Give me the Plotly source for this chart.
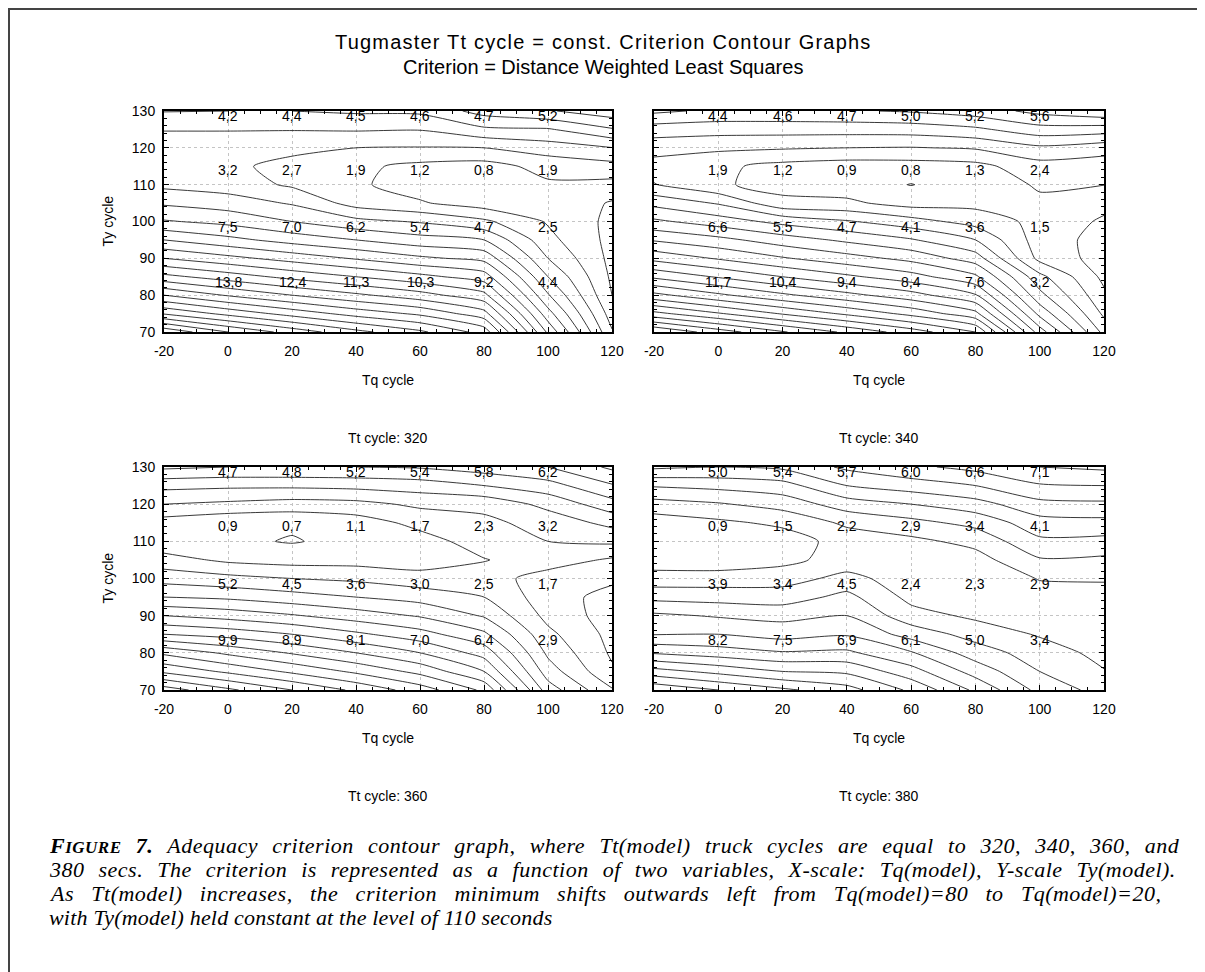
import plotly.graph_objects as go

# the page body adds an 8 px margin, so the figure is drawn 8 px smaller and all
# positions below are given in page pixels and shifted by OFF
OFF = 8
W, H = 1205 - OFF, 972 - OFF

# grid of the fitted criterion surface
tq = [-20, 0, 20, 40, 60, 80, 100, 120]
ty = [70, 75, 80, 85, 90, 95, 100, 105, 110, 115, 120, 125, 130]

# rows follow ty (70 -> 130), columns follow tq (-20 -> 120)
z320 = [
    [21.8, 20.0, 18.6, 17.3, 16.2, 14.6, 7.8, 2.1],
    [17.9, 16.7, 15.6, 14.6, 13.8, 12.4, 6.4, 1.5],
    [15.0, 13.9, 13.0, 12.2, 11.4, 10.3, 5.1, 1.0],
    [12.3, 11.5, 10.7, 10.0, 9.3, 8.5, 4.0, 0.82],
    [10.0, 9.3, 8.6, 7.9, 7.2, 6.7, 3.0, 0.72],
    [8.0, 7.3, 6.6, 6.0, 5.4, 5.0, 2.3, 0.7],
    [6.1, 5.7, 5.0, 4.3, 3.9, 3.2, 1.9, 0.75],
    [4.85, 4.5, 3.9, 2.6, 2.1, 1.5, 1.8, 0.9],
    [3.75, 3.5, 2.85, 2.15, 1.55, 1.25, 1.85, 1.7],
    [3.5, 3.2, 2.7, 2.2, 1.75, 1.6, 2.35, 2.65],
    [3.7, 3.5, 3.25, 3.0, 2.95, 3.0, 3.5, 3.97],
    [4.03, 4.05, 4.05, 4.1, 4.05, 4.8, 4.9, 5.9],
    [5.05, 5.0, 5.0, 5.15, 5.2, 6.4, 6.9, 7.6],
]
z340 = [
    [20.5, 19.0, 17.6, 16.3, 15.0, 13.5, 7.0, 2.2],
    [16.8, 15.6, 14.4, 13.3, 12.2, 10.8, 5.2, 1.3],
    [13.8, 12.7, 11.7, 10.8, 9.9, 8.6, 3.8, 0.7],
    [11.3, 10.4, 9.5, 8.7, 7.9, 6.7, 2.8, 0.25],
    [9.2, 8.4, 7.6, 6.9, 6.2, 5.0, 1.2, 0.1],
    [7.4, 6.8, 6.0, 5.3, 4.6, 3.5, 1.0, 0.15],
    [5.7, 5.0, 4.2, 3.6, 2.9, 2.1, 1.2, 0.35],
    [4.2, 3.4, 1.8, 1.7, 1.1, 1.2, 1.35, 0.8],
    [2.55, 1.65, 1.1, 0.95, 0.47, 1.0, 1.6, 1.52],
    [2.1, 1.7, 1.2, 1.0, 1.05, 1.2, 2.1, 2.0],
    [2.9, 2.7, 2.6, 2.5, 2.45, 2.6, 3.3, 2.9],
    [4.0, 3.9, 3.9, 3.9, 3.95, 4.3, 5.1, 5.0],
    [5.7, 5.3, 5.3, 5.4, 5.6, 6.0, 6.8, 7.3],
]
z360 = [
    [16.5, 15.2, 14.0, 12.8, 11.5, 9.8, 4.5, 2.1],
    [13.8, 12.8, 11.8, 10.8, 9.7, 8.0, 3.5, 1.15],
    [11.8, 10.8, 9.9, 9.0, 8.0, 6.6, 2.8, 0.85],
    [9.0, 8.6, 8.0, 7.2, 6.4, 5.2, 2.25, 0.7],
    [7.0, 6.6, 6.1, 5.5, 4.9, 3.9, 1.7, 0.55],
    [5.0, 4.8, 4.4, 4.0, 3.6, 3.0, 1.45, 0.65],
    [3.6, 3.3, 3.0, 2.8, 2.4, 2.45, 1.55, 1.2],
    [2.4, 1.8, 1.6, 1.6, 1.5, 1.95, 2.5, 1.85],
    [1.3, 1.2, 0.93, 1.3, 1.6, 2.45, 3.0, 3.2],
    [1.55, 1.2, 1.15, 1.5, 2.3, 2.75, 3.4, 4.3],
    [3.0, 2.8, 2.6, 2.7, 3.2, 3.3, 4.3, 5.6],
    [4.3, 4.2, 4.2, 4.3, 4.5, 5.0, 5.6, 6.9],
    [6.2, 6.0, 6.0, 6.0, 6.1, 6.5, 7.0, 8.2],
]
z380 = [
    [12.8, 12.0, 11.2, 10.4, 8.8, 6.8, 4.7, 3.6],
    [10.4, 9.7, 9.0, 8.8, 7.4, 5.6, 4.0, 3.05],
    [7.9, 7.5, 7.1, 7.2, 6.1, 4.5, 3.5, 2.7],
    [5.95, 6.0, 5.6, 5.9, 4.6, 3.6, 2.9, 2.5],
    [5.2, 4.9, 4.7, 5.0, 3.4, 2.8, 2.6, 2.45],
    [3.7, 3.6, 3.5, 4.3, 2.7, 2.4, 2.6, 2.6],
    [2.4, 2.45, 2.6, 3.3, 2.5, 2.3, 3.05, 3.1],
    [1.5, 1.4, 1.7, 2.45, 2.5, 2.6, 3.9, 3.8],
    [1.1, 1.05, 1.5, 2.4, 2.75, 3.3, 4.8, 4.7],
    [1.45, 1.8, 2.2, 3.2, 3.7, 4.3, 5.6, 5.7],
    [2.6, 2.9, 3.4, 4.5, 5.0, 5.6, 6.7, 6.8],
    [4.1, 4.3, 4.6, 6.0, 6.5, 7.0, 7.9, 8.0],
    [6.2, 6.0, 6.2, 7.2, 7.8, 8.3, 9.0, 9.2],
]

# observed criterion values printed at the design points
pt_tq = [0, 20, 40, 60, 80, 100]
pt_ty = [128.7, 114, 98.5, 83.5]
obs320 = [[4.2, 4.4, 4.5, 4.6, 4.7, 5.2], [3.2, 2.7, 1.9, 1.2, 0.8, 1.9],
          [7.5, 7.0, 6.2, 5.4, 4.7, 2.5], [13.8, 12.4, 11.3, 10.3, 9.2, 4.4]]
obs340 = [[4.4, 4.6, 4.7, 5.0, 5.2, 5.6], [1.9, 1.2, 0.9, 0.8, 1.3, 2.4],
          [6.6, 5.5, 4.7, 4.1, 3.6, 1.5], [11.7, 10.4, 9.4, 8.4, 7.6, 3.2]]
obs360 = [[4.7, 4.8, 5.2, 5.4, 5.8, 6.2], [0.9, 0.7, 1.1, 1.7, 2.3, 3.2],
          [5.2, 4.5, 3.6, 3.0, 2.5, 1.7], [9.9, 8.9, 8.1, 7.0, 6.4, 2.9]]
obs380 = [[5.0, 5.4, 5.7, 6.0, 6.6, 7.1], [0.9, 1.5, 2.2, 2.9, 3.4, 4.1],
          [3.9, 3.4, 4.5, 2.4, 2.3, 2.9], [8.2, 7.5, 6.9, 6.1, 5.0, 3.4]]

tt_cycles = [320, 340, 360, 380]
level_start = [1, 0.5, 1, 1]
x_ticks = [-20, 0, 20, 40, 60, 80, 100, 120]
x_tick_text = ["-20", "0", "20", "40", "60", "80", "100", "120"]
y_ticks = [70, 80, 90, 100, 110, 120, 130]

title_lines = ["Tugmaster Tt cycle = const. Criterion Contour Graphs",
               "Criterion = Distance Weighted Least Squares"]
caption_lines = [
    "<b>F<span style='font-size:17px'>IGURE</span> 7.</b> Adequacy criterion contour graph, where Tt(model) truck cycles are equal to 320, 340, 360, and",
    "380 secs. The criterion is represented as a function of two variables, X-scale: Tq(model), Y-scale Ty(model).",
    "As Tt(model) increases, the criterion minimum shifts outwards left from Tq(model)=80 to Tq(model)=20,",
    "with Ty(model) held constant at the level of 110 seconds",
]
# justified paragraph: (letter spacing, word spacing) per caption line
caption_spacing = [(0.5, 8.3), (0.5, 8.0), (0.5, 11.3), (0.2, 0)]

SANS = "Arial, 'Liberation Sans', sans-serif"
SERIF = "'Times New Roman', 'Liberation Serif', serif"


def px(x):
    return (x - OFF) / W


def py(y):
    return 1 - (y - OFF) / H


# panel boxes in page pixels: (left, right, top, bottom)
boxes = [(164, 612, 111, 332), (654, 1104, 111, 332),
         (164, 612, 467, 690), (654, 1104, 467, 690)]

fig = go.Figure()
annotations = []
zs = [z320, z340, z360, z380]
obs = [obs320, obs340, obs360, obs380]


def note(x, y, text, size=14, family=SANS, **kw):
    d = dict(x=px(x), y=py(y), xref="paper", yref="paper", showarrow=False, text=text,
             xanchor="center", yanchor="middle", font=dict(family=family, size=size, color="black"))
    d.update(kw)
    annotations.append(d)


for i in range(4):
    sfx = "" if i == 0 else str(i + 1)
    xa, ya = "x" + sfx, "y" + sfx
    L, R, T, B = boxes[i]
    fig.add_trace(go.Contour(
        x=tq, y=ty, z=zs[i], xaxis=xa, yaxis=ya,
        contours=dict(start=level_start[i], end=40, size=1, coloring="lines", showlabels=False),
        colorscale=[[0, "#222222"], [1, "#222222"]], showscale=False,
        line=dict(width=0.9, smoothing=0.6), hoverinfo="skip"))
    axis_common = dict(showline=True, linewidth=2, linecolor="black", mirror="allticks",
                       ticks="inside", ticklen=5, tickwidth=1, tickcolor="black",
                       showgrid=True, gridcolor="#c4c4c4", griddash="dot", gridwidth=1,
                       zeroline=False, automargin=False,
                       tickfont=dict(family=SANS, size=14, color="black"))
    fig.layout["xaxis" + sfx] = dict(
        domain=[px(L), px(R)], range=[-20, 120], anchor=ya,
        tickvals=x_ticks, ticktext=x_tick_text,
        minor=dict(ticks="inside", ticklen=3, tickcolor="black", dtick=5, tick0=0, showgrid=False),
        ticklabelstandoff=5, **axis_common)
    fig.layout["yaxis" + sfx] = dict(
        domain=[py(B), py(T)], range=[70, 130], anchor=xa, tickvals=y_ticks,
        showticklabels=(i % 2 == 0),
        minor=dict(ticks="inside", ticklen=3, tickcolor="black", dtick=2, tick0=0, showgrid=False),
        ticklabelstandoff=4, **axis_common)
    # observed values
    for r, yv in enumerate(pt_ty):
        for c, xv in enumerate(pt_tq):
            annotations.append(dict(
                x=xv, y=yv, xref=xa, yref=ya, showarrow=False,
                xanchor="center", yanchor="middle",
                text=f"{obs[i][r][c]:.1f}".replace(".", ","),
                font=dict(family=SANS, size=14, color="black")))
    cx = (L + R) / 2
    note(cx, B + 48, "Tq cycle")
    note(cx, B + 106, f"Tt cycle: {tt_cycles[i]}")
    if i % 2 == 0:
        note(107, (T + B) / 2, "Ty cycle", textangle=-90)

note(603, 42, "<span style='letter-spacing:1.2px'>" + title_lines[0] + "</span>", size=20)
note(603, 67, title_lines[1], size=20)
for k, line in enumerate(caption_lines):
    ls, ws = caption_spacing[k]
    note(47, 845 + 24 * k,
         f"<i><span style='letter-spacing:{ls}px; word-spacing:{ws}px'>" + line + "</span></i>",
         size=22, family=SERIF, xanchor="left")

shapes = [
    dict(type="line", xref="paper", yref="paper", x0=0, x1=1, y0=py(9), y1=py(9),
         line=dict(color="#444444", width=2)),
    dict(type="line", xref="paper", yref="paper", x0=px(9), x1=px(9), y0=py(9), y1=0,
         line=dict(color="#444444", width=2)),
]

fig.update_layout(width=W, height=H, autosize=False, margin=dict(l=0, r=0, t=0, b=0),
                  paper_bgcolor="white", plot_bgcolor="white", showlegend=False,
                  annotations=annotations, shapes=shapes)
fig.write_html("out.html")
